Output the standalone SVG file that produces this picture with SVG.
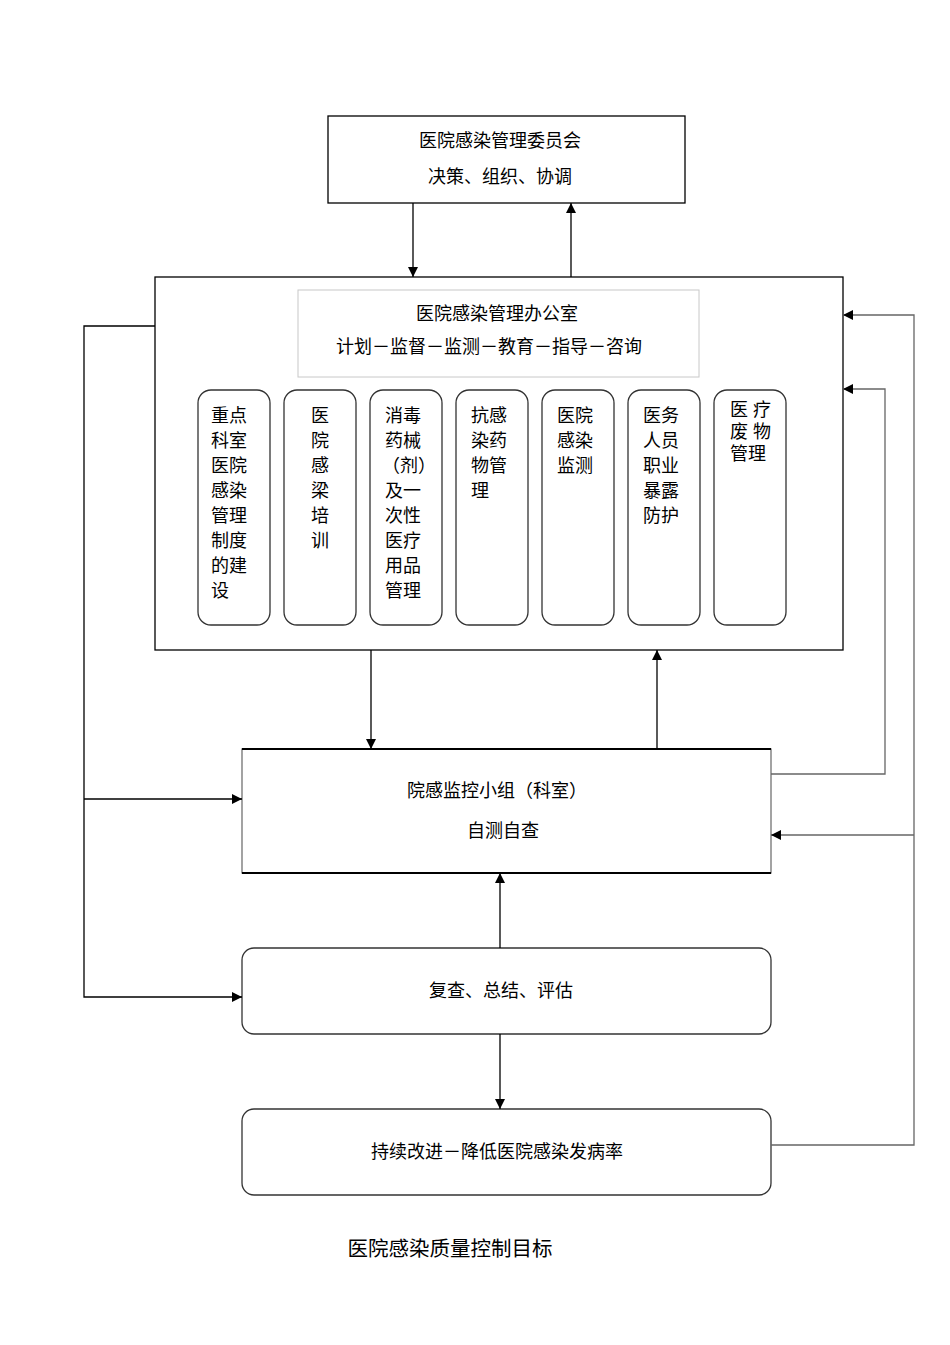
<svg xmlns="http://www.w3.org/2000/svg" width="950" height="1345" viewBox="0 0 950 1345">
<defs>
<marker id="arr" viewBox="0 0 10 10" refX="10" refY="5" markerWidth="10" markerHeight="10" markerUnits="userSpaceOnUse" orient="auto">
<path d="M0,0 L10,5 L0,10 z" fill="#000"/>
</marker>
<style>
text{font-family:"Liberation Serif","Noto Sans CJK SC",serif;font-size:18px;fill:#000}
.c{text-anchor:middle}
.box{fill:#fff;stroke:#000;stroke-width:1.3}
.gbox{fill:#fff;stroke:#c8c8c8;stroke-width:1}
.rbox{fill:#fff;stroke:#333;stroke-width:1.3}
.ln{fill:none;stroke:#000;stroke-width:1.3}
.lng{fill:none;stroke:#666;stroke-width:1.3}
.cap{font-size:20.5px}
</style>
</defs>
<rect width="950" height="1345" fill="#fff"/>

<g id="committee">
<rect class="box" x="328" y="116" width="357" height="87"/>
<text class="c" x="500" y="147">医院感染管理委员会</text>
<text class="c" x="500" y="183">决策、组织、协调</text>
</g>

<g id="office">
<rect class="box" x="155" y="277" width="688" height="373"/>
<rect class="gbox" x="298" y="290" width="401" height="87"/>
<text class="c" x="497" y="320">医院感染管理办公室</text>
<text class="c" x="489" y="353">计划－监督－监测－教育－指导－咨询</text>
</g>

<g id="sub1">
<rect class="rbox" x="198" y="390" width="72" height="235" rx="13"/>
<text x="211" y="422">重点</text><text x="211" y="447">科室</text><text x="211" y="472">医院</text><text x="211" y="497">感染</text><text x="211" y="522">管理</text><text x="211" y="547">制度</text><text x="211" y="572">的建</text><text x="211" y="597">设</text>
</g>
<g id="sub2">
<rect class="rbox" x="284" y="390" width="72" height="235" rx="13"/>
<text class="c" x="320" y="422">医</text><text class="c" x="320" y="447">院</text><text class="c" x="320" y="472">感</text><text class="c" x="320" y="497">梁</text><text class="c" x="320" y="522">培</text><text class="c" x="320" y="547">训</text>
</g>
<g id="sub3">
<rect class="rbox" x="370" y="390" width="72" height="235" rx="13"/>
<text x="385" y="422">消毒</text><text x="385" y="447">药械</text><text x="382" y="472">（剂）</text><text x="385" y="497">及一</text><text x="385" y="522">次性</text><text x="385" y="547">医疗</text><text x="385" y="572">用品</text><text x="385" y="597">管理</text>
</g>
<g id="sub4">
<rect class="rbox" x="456" y="390" width="72" height="235" rx="13"/>
<text x="471" y="422">抗感</text><text x="471" y="447">染药</text><text x="471" y="472">物管</text><text x="471" y="497">理</text>
</g>
<g id="sub5">
<rect class="rbox" x="542" y="390" width="72" height="235" rx="13"/>
<text x="557" y="422">医院</text><text x="557" y="447">感染</text><text x="557" y="472">监测</text>
</g>
<g id="sub6">
<rect class="rbox" x="628" y="390" width="72" height="235" rx="13"/>
<text x="643" y="422">医务</text><text x="643" y="447">人员</text><text x="643" y="472">职业</text><text x="643" y="497">暴露</text><text x="643" y="522">防护</text>
</g>
<g id="sub7">
<rect class="rbox" x="714" y="390" width="72" height="235" rx="13"/>
<text x="730" y="416">医</text><text x="753" y="416">疗</text>
<text x="730" y="438">废</text><text x="753" y="438">物</text>
<text x="730" y="460">管理</text>
</g>

<g id="group">
<rect x="242" y="749" width="529" height="124" fill="#fff" stroke="#666" stroke-width="1.2"/>
<line x1="242" y1="749" x2="771" y2="749" stroke="#000" stroke-width="2"/>
<line x1="242" y1="873" x2="771" y2="873" stroke="#000" stroke-width="2"/>
<text class="c" x="497" y="797">院感监控小组（科室）</text>
<text class="c" x="503" y="837">自测自查</text>
</g>

<g id="review">
<rect class="rbox" x="242" y="948" width="529" height="86" rx="12"/>
<text class="c" x="501" y="997">复查、总结、评估</text>
</g>

<g id="improve">
<rect class="rbox" x="242" y="1109" width="529" height="86" rx="12"/>
<text class="c" x="497" y="1158">持续改进－降低医院感染发病率</text>
</g>

<g id="caption">
<text class="c cap" x="450" y="1256">医院感染质量控制目标</text>
</g>

<g id="connectors">
<line class="ln" x1="413" y1="203" x2="413" y2="277" marker-end="url(#arr)"/>
<line class="ln" x1="571" y1="277" x2="571" y2="203" marker-end="url(#arr)"/>
<line class="ln" x1="371" y1="650" x2="371" y2="749" marker-end="url(#arr)"/>
<line class="ln" x1="657" y1="749" x2="657" y2="650" marker-end="url(#arr)"/>
<polyline class="lng" points="771,774 885,774 885,389 843,389" marker-end="url(#arr)"/>
<polyline class="lng" points="771,1145 914,1145 914,315 843,315" marker-end="url(#arr)"/>
<line class="lng" x1="914" y1="835" x2="771" y2="835" marker-end="url(#arr)"/>
<polyline class="ln" points="155,326 84,326 84,997 242,997" marker-end="url(#arr)"/>
<line class="ln" x1="84" y1="799" x2="242" y2="799" marker-end="url(#arr)"/>
<line class="ln" x1="500" y1="948" x2="500" y2="873" marker-end="url(#arr)"/>
<line class="ln" x1="500" y1="1034" x2="500" y2="1109" marker-end="url(#arr)"/>
</g>
</svg>
